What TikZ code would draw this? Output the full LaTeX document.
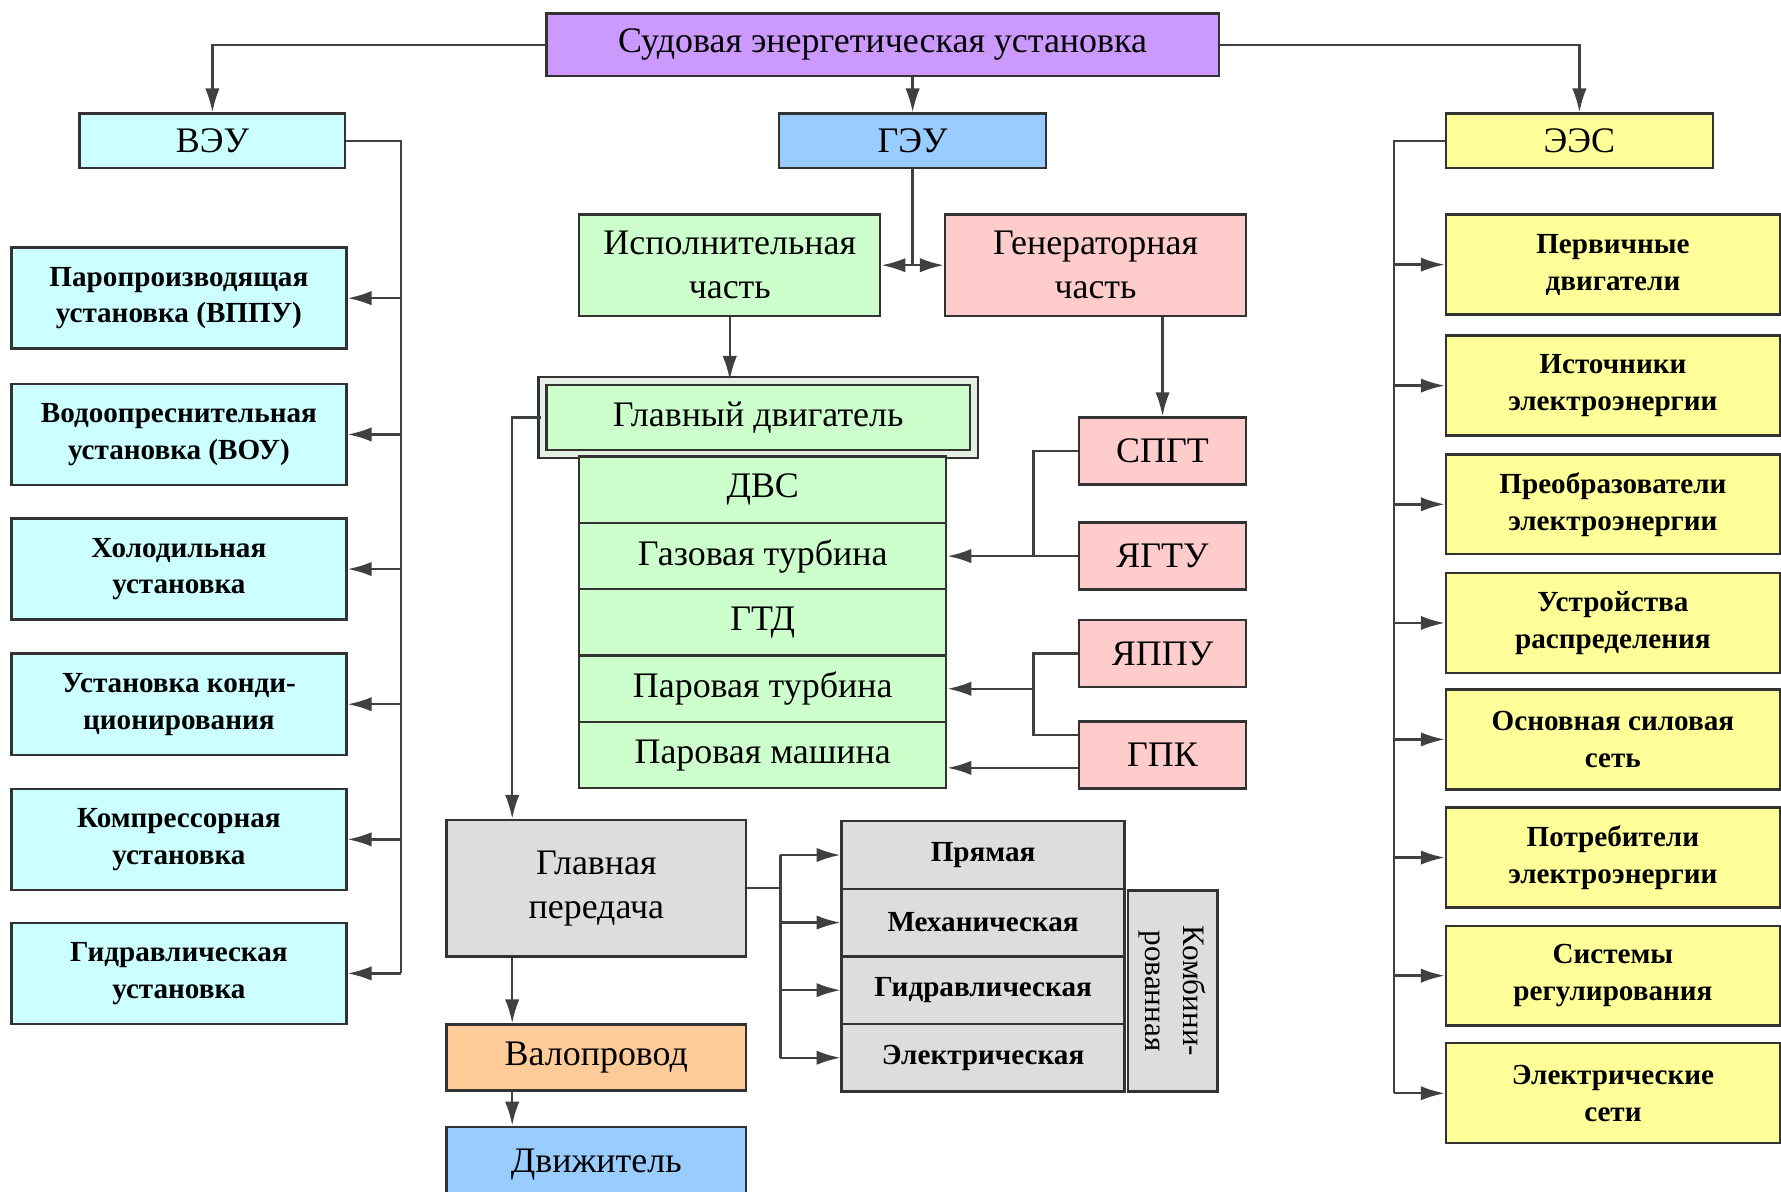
\documentclass[tikz,border=0pt]{standalone}
\usepackage{fontspec}
\setmainfont{Liberation Serif}
\usetikzlibrary{arrows.meta}
\definecolor{sueviolet}{RGB}{204,153,255}
\definecolor{auxcyan}{RGB}{204,255,255}
\definecolor{mainblue}{RGB}{153,204,255}
\definecolor{elyellow}{RGB}{255,255,153}
\definecolor{engreen}{RGB}{204,255,204}
\definecolor{genpink}{RGB}{255,204,204}
\definecolor{trgray}{RGB}{221,221,221}
\definecolor{shaftorange}{RGB}{255,204,153}
\tikzset{box/.style={draw=black!80,line width=0.6pt,align=center,inner sep=0pt,font=\fontsize{9}{11}\selectfont},
  small text/.style={font=\fontsize{7.3}{9.2}\selectfont\bfseries},
  aux box/.style={box,small text,fill=auxcyan,minimum width=2.95cm,minimum height=0.89cm},
  el box/.style={box,small text,fill=elyellow,minimum width=2.94cm,minimum height=0.88cm},
  eng box/.style={box,fill=engreen,minimum width=3.23cm,minimum height=0.584cm},
  gen box/.style={box,fill=genpink,minimum width=1.47cm,minimum height=0.59cm},
  tr box/.style={box,small text,fill=trgray,minimum width=2.49cm,minimum height=0.595cm},
  link/.style={draw=black!75,line width=0.6pt},
  arrow/.style={link,-{Latex[length=6pt,width=3.6pt]}}}

\begin{document}
\begin{tikzpicture}[x=1cm,y=-1cm]
	\useasboundingbox (0,0) rectangle (15.68,10.49);

	\node[box,fill=sueviolet,minimum width=5.92cm,minimum height=0.55cm] (sue) at (7.77,0.395) {Судовая энергетическая установка};
	\node[box,fill=auxcyan,minimum width=2.34cm,minimum height=0.48cm] (veu) at (1.87,1.24) {ВЭУ};
	\node[box,fill=mainblue,minimum width=2.35cm,minimum height=0.48cm] (geu) at (8.035,1.24) {ГЭУ};
	\node[box,fill=elyellow,minimum width=2.35cm,minimum height=0.48cm] (ees) at (13.905,1.24) {ЭЭС};

	\node[aux box] (vppu) at (1.575,2.625) {Паропроизводящая\\установка (ВППУ)};
	\node[aux box] (vou) at (1.575,3.825) {Водоопреснительная\\установка (ВОУ)};
	\node[aux box] (hol) at (1.575,5.01) {Холодильная\\установка};
	\node[aux box] (kond) at (1.575,6.20) {Установка конди-\\ционирования};
	\node[aux box] (komp) at (1.575,7.39) {Компрессорная\\установка};
	\node[aux box] (gidru) at (1.575,8.57) {Гидравлическая\\установка};

	\node[el box] (perv) at (14.20,2.33) {Первичные\\двигатели};
	\node[el box] (ist) at (14.20,3.395) {Источники\\электроэнергии};
	\node[el box] (preob) at (14.20,4.44) {Преобразователи\\электроэнергии};
	\node[el box] (raspr) at (14.20,5.485) {Устройства\\распределения};
	\node[el box] (osn) at (14.20,6.51) {Основная силовая\\сеть};
	\node[el box] (potr) at (14.20,7.55) {Потребители\\электроэнергии};
	\node[el box] (sist) at (14.20,8.59) {Системы\\регулирования};
	\node[el box] (seti) at (14.20,9.625) {Электрические\\сети};

	\node[box,fill=engreen,minimum width=2.65cm,minimum height=0.89cm] (isp) at (6.425,2.335) {Исполнительная\\часть};
	\node[box,fill=genpink,minimum width=2.65cm,minimum height=0.89cm] (gen) at (9.645,2.335) {Генераторная\\часть};
	\node[box,fill=engreen,double=engreen!80!black!30,double distance=1.4pt,minimum width=3.80cm,minimum height=0.64cm] (gd) at (6.675,3.675) {Главный двигатель};

	\node[eng box] (dvs) at (6.715,4.312) {ДВС};
	\node[eng box] (gazt) at (6.715,4.896) {Газовая турбина};
	\node[eng box] (gtd) at (6.715,5.48) {ГТД};
	\node[eng box] (part) at (6.715,6.064) {Паровая турбина};
	\node[eng box] (parm) at (6.715,6.648) {Паровая машина};

	\node[gen box] (spgt) at (10.235,3.97) {СПГТ};
	\node[gen box] (ygtu) at (10.235,4.896) {ЯГТУ};
	\node[gen box] (yppu) at (10.235,5.755) {ЯППУ};
	\node[gen box] (gpk) at (10.235,6.648) {ГПК};

	\node[box,fill=trgray,minimum width=2.64cm,minimum height=1.20cm] (gp) at (5.25,7.82) {Главная\\передача};
	\node[box,fill=shaftorange,minimum width=2.64cm,minimum height=0.58cm] (valo) at (5.25,9.31) {Валопровод};
	\node[box,fill=mainblue,minimum width=2.64cm,minimum height=0.66cm] (dvig) at (5.25,10.25) {Движитель};

	\node[tr box] (pryam) at (8.655,7.5275) {Прямая};
	\node[tr box] (meh) at (8.655,8.1225) {Механическая};
	\node[tr box] (gidr) at (8.655,8.7175) {Гидравлическая};
	\node[tr box] (elek) at (8.655,9.3125) {Электрическая};
	\node[box,fill=trgray,font=\fontsize{7.8}{9.5}\selectfont,rotate=-90,minimum width=1.77cm,minimum height=0.79cm] (komb) at (10.325,8.725) {Комбини-\\рованная};

	\coordinate (vbus) at (3.53,1.24);
	\coordinate (ebus) at (12.27,1.24);
	\coordinate (gbus) at (9.10,3.97);

	\draw[arrow] (sue.west) -| (veu.north);
	\draw[arrow] (sue.east) -| (ees.north);
	\draw[arrow] (sue.south -| geu) -- (geu.north);

	\draw[link] (veu.east) -- (vbus) -- (vbus |- gidru);
	\draw[arrow] (vbus |- vppu) -- (vppu);
	\draw[arrow] (vbus |- vou) -- (vou);
	\draw[arrow] (vbus |- hol) -- (hol);
	\draw[arrow] (vbus |- kond) -- (kond);
	\draw[arrow] (vbus |- komp) -- (komp);
	\draw[arrow] (vbus |- gidru) -- (gidru);

	\draw[link] (ees.west) -- (ebus) -- (ebus |- seti);
	\draw[arrow] (ebus |- perv) -- (perv);
	\draw[arrow] (ebus |- ist) -- (ist);
	\draw[arrow] (ebus |- preob) -- (preob);
	\draw[arrow] (ebus |- raspr) -- (raspr);
	\draw[arrow] (ebus |- osn) -- (osn);
	\draw[arrow] (ebus |- potr) -- (potr);
	\draw[arrow] (ebus |- sist) -- (sist);
	\draw[arrow] (ebus |- seti) -- (seti);

	\draw[link] (geu) -- (geu |- isp);
	\draw[arrow] (geu |- isp) -- (isp);
	\draw[arrow] (geu |- isp) -- (gen);
	\draw[arrow] (isp) -- (isp |- gd.north);
	\draw[arrow] (gen.south -| spgt) -- (spgt);

	\draw[link] (spgt) -- (gbus) |- (ygtu);
	\draw[arrow] (ygtu) -- (gazt);
	\draw[link] (yppu) -- (gbus |- yppu) |- ([yshift=5pt]gpk.west);
	\draw[arrow] (gbus |- yppu) |- (part);
	\draw[arrow] ([yshift=-3.2pt]gpk.west) -- ([yshift=-3.2pt]parm.east);

	\draw[arrow] (gd.west) -| ([xshift=0.59cm]gp.north west);
	\draw[arrow] ([xshift=0.59cm]gp.south west) -- ([xshift=0.59cm]valo.north west);
	\draw[arrow] ([xshift=0.59cm]valo.south west) -- ([xshift=0.59cm]dvig.north west);

	\draw[link] (gp.east) -- ++(0.29,0) coordinate (tbus);
	\draw[link] (tbus |- pryam) -- (tbus |- elek);
	\draw[arrow] (tbus |- pryam) -- (pryam);
	\draw[arrow] (tbus |- meh) -- (meh);
	\draw[arrow] (tbus |- gidr) -- (gidr);
	\draw[arrow] (tbus |- elek) -- (elek);
\end{tikzpicture}
\end{document}
